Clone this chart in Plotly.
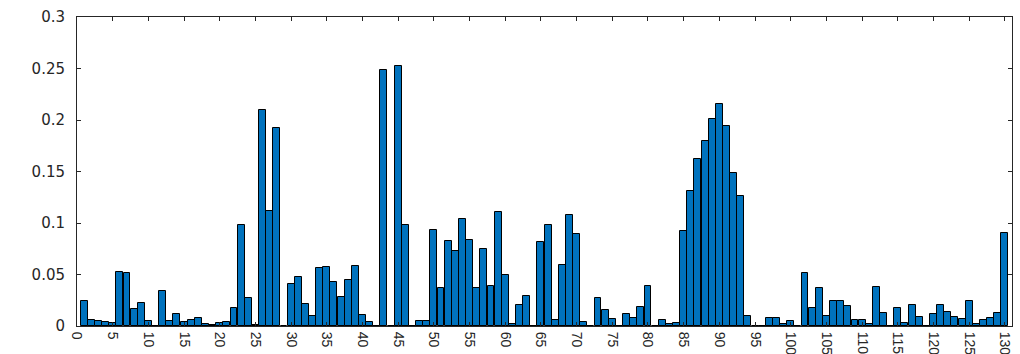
import plotly.graph_objects as go

x_index = list(range(1, 131))
values = [
    0.024, 0.0058, 0.0052, 0.0039, 0.0026, 0.0523, 0.051, 0.0162, 0.0224, 0.0049,   # 1-10
    0.0, 0.0344, 0.0045, 0.0114, 0.0042, 0.0058, 0.0081, 0.002, 0.001, 0.003,       # 11-20
    0.0036, 0.0179, 0.0977, 0.027, 0.0013, 0.2094, 0.1114, 0.1925, 0.0, 0.0403,    # 21-30
    0.0474, 0.0218, 0.0094, 0.0568, 0.0571, 0.0432, 0.0279, 0.0445, 0.0578, 0.0104, # 31-40
    0.0036, 0.0, 0.249, 0.0, 0.252, 0.0984, 0.0, 0.0045, 0.0049, 0.0932,            # 41-50
    0.0367, 0.0821, 0.0731, 0.1042, 0.0834, 0.0373, 0.0747, 0.0386, 0.111, 0.0497,  # 51-60
    0.0023, 0.0208, 0.0295, 0.0, 0.0815, 0.0984, 0.0058, 0.0591, 0.1078, 0.089,     # 61-70
    0.0036, 0.0, 0.027, 0.0153, 0.0068, 0.0, 0.012, 0.0078, 0.0188, 0.0386,         # 71-80
    0.0, 0.0058, 0.002, 0.003, 0.0919, 0.1308, 0.1623, 0.1799, 0.2013, 0.2159,      # 81-90
    0.1938, 0.1487, 0.1263, 0.0101, 0.0, 0.0, 0.0081, 0.0081, 0.002, 0.0049,        # 91-100
    0.0, 0.0513, 0.0175, 0.0373, 0.0094, 0.0244, 0.0244, 0.0198, 0.0062, 0.0062,    # 101-110
    0.0023, 0.038, 0.0123, 0.0, 0.0179, 0.0032, 0.0201, 0.0091, 0.0, 0.012,         # 111-120
    0.0201, 0.014, 0.0084, 0.0068, 0.0247, 0.002, 0.0058, 0.0078, 0.013, 0.0903,    # 121-130
]
x_ticks = list(range(0, 131, 5))
y_ticks = [0, 0.05, 0.1, 0.15, 0.2, 0.25, 0.3]
y_tick_labels = ["0", "0.05", "0.1", "0.15", "0.2", "0.25", "0.3"]

fig = go.Figure(
    go.Bar(
        x=x_index,
        y=values,
        width=0.97,
        marker=dict(color="#0072BD", line=dict(color="black", width=1)),
    )
)

axis_color = "#262626"
fig.update_layout(
    width=1020,
    height=354,
    margin=dict(l=77, r=8, t=17, b=28),
    paper_bgcolor="white",
    plot_bgcolor="white",
    showlegend=False,
    bargap=0,
)
fig.update_xaxes(
    range=[0, 131],
    tickmode="array",
    tickvals=x_ticks,
    ticktext=[str(v) for v in x_ticks],
    tickangle=90,
    ticks="inside",
    ticklen=4,
    tickcolor=axis_color,
    showline=True,
    linecolor=axis_color,
    linewidth=1,
    mirror="ticks",
    showgrid=False,
    zeroline=False,
    automargin=False,
    ticklabelstandoff=2,
    tickfont=dict(family="Liberation Sans, Arial", size=14, color=axis_color),
)
fig.update_yaxes(
    range=[0, 0.3],
    tickmode="array",
    tickvals=y_ticks,
    ticktext=y_tick_labels,
    ticks="inside",
    ticklen=4,
    tickcolor=axis_color,
    showline=True,
    linecolor=axis_color,
    linewidth=1,
    mirror="ticks",
    showgrid=False,
    zeroline=False,
    automargin=False,
    ticklabelstandoff=8,
    tickfont=dict(family="DejaVu Sans", size=15, color=axis_color),
)

fig.write_html("out.html")
